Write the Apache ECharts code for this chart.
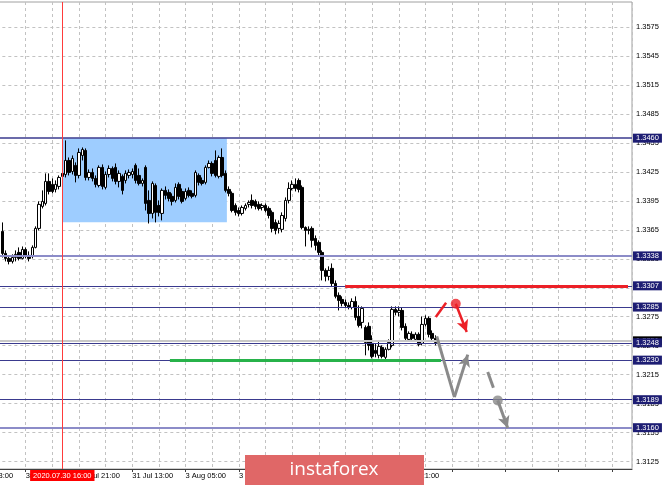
<!DOCTYPE html>
<html><head><meta charset="utf-8">
<script src="https://cdn.jsdelivr.net/npm/echarts@6/dist/echarts.min.js"></script>
<style>html,body{margin:0;padding:0;background:#fff}#c{width:665px;height:485px}</style>
</head><body><div id="c"></div>
<script>
// ---- data (hourly bars, index 0 = 29 Jul 13:00) ----
const firstIndex = 9;
const opens = [1.33634,1.33406,1.33354,1.33323,1.33364,1.33416,1.33354,1.33447,1.33385,1.33375,1.33468,1.33665,1.33893,1.33924,1.34152,1.34121,1.34069,1.34100,1.34235,1.34224,1.34369,1.34255,1.34318,1.34214,1.34421,1.34473,1.34193,1.34245,1.34183,1.34110,1.34297,1.34090,1.34224,1.34286,1.34297,1.34152,1.34204,1.34162,1.34214,1.34224,1.34318,1.34214,1.34131,1.34297,1.33955,1.33820,1.34110,1.33903,1.33820,1.34059,1.34038,1.33997,1.33955,1.34121,1.34048,1.33976,1.34059,1.34028,1.34007,1.34214,1.34162,1.34142,1.34297,1.34338,1.34369,1.34204,1.34400,1.34235,1.34069,1.34028,1.33903,1.33851,1.33820,1.33872,1.33914,1.33955,1.33945,1.33914,1.33882,1.33903,1.33872,1.33831,1.33727,1.33665,1.33655,1.33768,1.33955,1.34079,1.34121,1.34162,1.34090,1.33675,1.33644,1.33665,1.33561,1.33520,1.33416,1.33230,1.33168,1.33251,1.33095,1.32971,1.32929,1.32898,1.32867,1.32846,1.32908,1.32753,1.32691,1.32639,1.32650,1.32474,1.32401,1.32350,1.32432,1.32329,1.32412,1.32453,1.32826,1.32795,1.32815,1.32650,1.32515,1.32567,1.32515,1.32567,1.32474,1.32670,1.32733,1.32577,1.32526];
const closes = [1.33406,1.33354,1.33323,1.33364,1.33396,1.33354,1.33447,1.33375,1.33354,1.33468,1.33665,1.33914,1.33945,1.34152,1.34048,1.34048,1.34121,1.34193,1.34204,1.34369,1.34245,1.34390,1.34214,1.34452,1.34483,1.34193,1.34245,1.34183,1.34121,1.34297,1.34100,1.34224,1.34286,1.34183,1.34152,1.34235,1.34059,1.34235,1.34245,1.34255,1.34162,1.34131,1.34162,1.33924,1.33820,1.34131,1.33831,1.33831,1.34059,1.34007,1.33976,1.33945,1.34090,1.33997,1.33945,1.34048,1.34007,1.33997,1.34245,1.34142,1.34131,1.34297,1.34338,1.34235,1.34214,1.34400,1.34214,1.34059,1.34028,1.33851,1.33831,1.33820,1.33882,1.33903,1.33934,1.33903,1.33893,1.33872,1.33903,1.33851,1.33799,1.33665,1.33644,1.33717,1.33799,1.33955,1.34079,1.34121,1.34079,1.34069,1.33675,1.33644,1.33655,1.33541,1.33489,1.33416,1.33230,1.33168,1.33230,1.33095,1.32961,1.32919,1.32888,1.32867,1.32846,1.32908,1.32743,1.32660,1.32836,1.32484,1.32453,1.32339,1.32370,1.32443,1.32339,1.32412,1.32484,1.32826,1.32795,1.32815,1.32639,1.32526,1.32577,1.32526,1.32567,1.32464,1.32670,1.32733,1.32567,1.32526,1.32484];
const lows = [1.33364,1.33323,1.33292,1.33302,1.33323,1.33333,1.33344,1.33354,1.33323,1.33354,1.33458,1.33644,1.33872,1.33903,1.34017,1.34028,1.34038,1.34069,1.34183,1.34193,1.34214,1.34224,1.34142,1.34183,1.34369,1.34162,1.34162,1.34152,1.34090,1.34090,1.34069,1.34069,1.34193,1.34152,1.34121,1.34090,1.34017,1.34131,1.34183,1.34183,1.34131,1.34110,1.34100,1.33851,1.33716,1.33768,1.33727,1.33789,1.33748,1.33965,1.33945,1.33903,1.33934,1.33965,1.33924,1.33955,1.33986,1.33976,1.33986,1.34110,1.34110,1.34121,1.34286,1.34204,1.34193,1.34183,1.34193,1.34038,1.33997,1.33831,1.33799,1.33789,1.33799,1.33851,1.33882,1.33872,1.33862,1.33851,1.33851,1.33831,1.33768,1.33624,1.33603,1.33613,1.33624,1.33737,1.33924,1.34059,1.34048,1.34038,1.33655,1.33478,1.33603,1.33468,1.33437,1.33375,1.33126,1.33116,1.33126,1.33064,1.32940,1.32815,1.32857,1.32846,1.32826,1.32826,1.32712,1.32639,1.32629,1.32350,1.32401,1.32318,1.32329,1.32318,1.32318,1.32308,1.32401,1.32432,1.32764,1.32753,1.32608,1.32505,1.32494,1.32505,1.32494,1.32443,1.32453,1.32650,1.32536,1.32494,1.32453];
const highs = [1.33727,1.33437,1.33385,1.33396,1.33437,1.33468,1.33478,1.33468,1.33427,1.33489,1.33686,1.33945,1.34059,1.34235,1.34235,1.34183,1.34162,1.34214,1.34255,1.34577,1.34400,1.34421,1.34349,1.34494,1.34504,1.34494,1.34276,1.34286,1.34214,1.34318,1.34328,1.34255,1.34318,1.34307,1.34338,1.34266,1.34224,1.34266,1.34276,1.34286,1.34338,1.34286,1.34183,1.34318,1.34059,1.34152,1.34131,1.33955,1.34079,1.34100,1.34069,1.34028,1.34131,1.34142,1.34079,1.34079,1.34090,1.34059,1.34266,1.34235,1.34193,1.34318,1.34369,1.34359,1.34473,1.34421,1.34494,1.34266,1.34100,1.34048,1.33924,1.33882,1.33903,1.33924,1.33955,1.34017,1.33965,1.33945,1.33924,1.33924,1.33893,1.33851,1.33758,1.33748,1.33831,1.33986,1.34142,1.34162,1.34183,1.34183,1.34110,1.33686,1.33686,1.33686,1.33592,1.33541,1.33437,1.33251,1.33272,1.33302,1.33126,1.33002,1.32961,1.32929,1.32898,1.32940,1.32961,1.32867,1.32857,1.32660,1.32691,1.32557,1.32474,1.32505,1.32453,1.32432,1.32515,1.32857,1.32857,1.32857,1.32846,1.32681,1.32598,1.32598,1.32588,1.32588,1.32753,1.32764,1.32753,1.32608,1.32557];

const xTickIndex = [0,16,32,48,64,80,96,112,128];
const xTickText = ['29 Jul 13:00','30 Jul 05:00','30 Jul 21:00','31 Jul 13:00','3 Aug 05:00','3 Aug 21:00','4 Aug 13:00','5 Aug 05:00','5 Aug 21:00'];
const yTickLabels = ['1.3125','1.3155','1.3185','1.3215','1.3245','1.3275','1.3305','1.3335','1.3365','1.3395','1.3425','1.3455','1.3485','1.3515','1.3545','1.3575'];

const levels = [1.3460,1.3338,1.3307,1.3285,1.3248,1.3230,1.3189,1.3160];
const levelText = ['1.3460','1.3338','1.3307','1.3285','1.3248','1.3230','1.3189','1.3160'];
const bidLevel = 1.3250;
const bidText = '1.3251';

const crossIndex = 27;
const crossText = '2020.07.30 16:00';
const zoneX = [27, 76.4];
const zoneY = [1.3460, 1.3373];
const greenX = [59.3, 140.7]; const greenLevel = 1.3230;
const redX = [111.9, 196.8]; const redLevel = 1.3307;

const redTick = [[139.1,1.32746],[142.2,1.32895]];
const redDot = [145.1,1.32885];
const redArrowEnd = [148.4,1.32591];
const grayPath = [[139.4,1.32546],[144.7,1.31917],[148.7,1.32357]];
const grayDash = [[154.7,1.32176],[156.4,1.32015]];
const grayDot = [157.7,1.31883];
const grayArrowEnd = [160.7,1.31596];

const watermarkText = 'instaforex';

// ---- chart ----
const W = 665, H = 485;
const yMin = 1.31172, yMax = 1.36011;         // price range of the plot (top 2px, bottom 469px)
const plotTop = 2, plotBottom = 469;
const pxPerUnit = (plotBottom - plotTop) / (yMax - yMin);
const yTickMin = 1.3125, yTickMax = 1.3575;  // label grid aligned with the tick lattice
const labTop = plotTop + (yMax - yTickMax) * pxPerUnit;
const labBottom = plotTop + (yMax - yTickMin) * pxPerUnit;

const FONT = 'Liberation Sans';
const gridStyle = {color:'#c2c2c2', type:[3,3], width:1};
const candleData = opens.map((o,k)=>[firstIndex+k, o, closes[k], lows[k], highs[k]]);

const NAVY = '#3a3a8e';
const levelLines = levels.map((lv,k)=>({
  yAxis: lv,
  lineStyle: {color: (k===1||k===7) ? '#8c8cc8' : NAVY, width: (k===1||k===7) ? 2 : (k===0?1.5:1), type:'solid'},
  label: {show:true, position:'end', distance:1, formatter: levelText[k], color:'#fff', backgroundColor:'#1d1d73',
          padding:[1,3,0,3], fontSize:7.5, fontFamily:FONT}
}));

const gridLeft = -27.65, gridRight = 33;
const chart = echarts.init(document.getElementById('c'));
chart.setOption({
  animation:false,
  backgroundColor:'#fff',
  grid:[
    {left:gridLeft, right:gridRight, top:plotTop, bottom:H-plotBottom, show:true, borderColor:'#a0a0a0', borderWidth:1,
     containLabel:false, outerBoundsMode:'none'},
    {left:gridLeft, right:gridRight, top:labTop, bottom:H-labBottom, show:false, containLabel:false, outerBoundsMode:'none'}
  ],
  xAxis:[
    {type:'value', gridIndex:0, min:0, max:198, interval:16, position:'bottom',
     axisLine:{show:true, lineStyle:{color:'#404040'}},
     axisTick:{show:true, length:3, lineStyle:{color:'#404040'}},
     axisLabel:{show:true, margin:3, fontSize:7.5, fontFamily:FONT, color:'#000', align:'left',
       showMaxLabel:false, hideOverlap:false,
       formatter: v => { const k = xTickIndex.indexOf(Math.round(v)); return k>=0 ? xTickText[k] : ''; }},
     splitLine:{show:false}},
    {type:'value', gridIndex:0, min:0, max:198, interval:8, position:'bottom',
     axisLine:{show:false}, axisTick:{show:false}, axisLabel:{show:false},
     splitLine:{show:true, lineStyle:gridStyle}},
    {type:'value', gridIndex:1, min:0, max:198, show:false}
  ],
  yAxis:[
    {type:'value', gridIndex:0, min:yMin, max:yMax, position:'right',
     axisLine:{show:true, lineStyle:{color:'#404040'}}, axisTick:{show:false}, axisLabel:{show:false}, splitLine:{show:false}},
    {type:'value', gridIndex:1, min:yTickMin, max:yTickMax, interval:0.003, position:'right',
     axisLine:{show:false},
     axisTick:{show:true, length:3, lineStyle:{color:'#404040'}},
     axisLabel:{margin:4, fontSize:7.5, fontFamily:FONT, color:'#000',
       formatter: v => { const k = Math.round((v - yTickMin)/0.003); return (k>=0 && k<yTickLabels.length) ? yTickLabels[k] : ''; }},
     splitLine:{show:true, lineStyle:gridStyle}}
  ],
  series:[
    {type:'line', name:'zone', data:[], z:1, xAxisIndex:0, yAxisIndex:0,
     markArea:{silent:true, itemStyle:{color:'#9ecdff'},
       data:[[{coord:[zoneX[0], zoneY[0]]},{coord:[zoneX[1], zoneY[1]]}]]}},
    {type:'line', name:'bid', data:[], z:2, xAxisIndex:0, yAxisIndex:0,
     markLine:{silent:true, precision:5, symbol:['none','none'],
       data:[{yAxis:bidLevel, lineStyle:{color:'#c8c8c8', width:2, type:'solid'},
         label:{show:true, position:'end', distance:1, formatter:bidText, color:'#fff', backgroundColor:'#000',
           padding:[1,3,0,3], fontSize:7.5, fontFamily:FONT}}]}},
    {type:'line', name:'levels', data:[], z:3, xAxisIndex:0, yAxisIndex:0,
     markLine:{silent:true, precision:5, symbol:['none','none'], data: levelLines}},
    {type:'candlestick', name:'GBPUSD', z:4, xAxisIndex:0, yAxisIndex:0, barWidth:3,
     dimensions:['idx','open','close','lowest','highest'],
     encode:{x:'idx', y:['open','close','lowest','highest']},
     data: candleData,
     itemStyle:{color:'#ffffff', color0:'#000000', borderColor:'#000000', borderColor0:'#000000', borderWidth:1}},
    {type:'line', name:'marks', data:[], z:5, xAxisIndex:0, yAxisIndex:0,
     markLine:{silent:true, precision:5, symbol:['none','none'], label:{show:false},
       data:[
         [{coord:[greenX[0],greenLevel], lineStyle:{color:'#27b24a', width:3, type:'solid'}},{coord:[greenX[1],greenLevel]}],
         [{coord:[redX[0],redLevel], lineStyle:{color:'#ec2027', width:3, type:'solid'}},{coord:[redX[1],redLevel]}],
         [{coord:redTick[0], lineStyle:{color:'#ec2027', width:2.5, type:'solid'}},{coord:redTick[1]}],
         [{coord:redDot, lineStyle:{color:'#ec2027', width:2.5, type:'solid'}},{coord:redArrowEnd, symbol:'arrow', symbolSize:[9,12]}],
         [{coord:grayPath[0], lineStyle:{color:'#8a8a8a', width:3, type:'solid'}},{coord:grayPath[1]}],
         [{coord:grayPath[1], lineStyle:{color:'#8a8a8a', width:3, type:'solid'}},{coord:grayPath[2], symbol:'arrow', symbolSize:[9,12]}],
         [{coord:grayDash[0], lineStyle:{color:'#8a8a8a', width:3, type:'solid'}},{coord:grayDash[1]}],
         [{coord:grayDot, lineStyle:{color:'#8a8a8a', width:3, type:'solid'}},{coord:grayArrowEnd, symbol:'arrow', symbolSize:[9,12]}]
       ]}},
    {type:'scatter', name:'dots', z:6, xAxisIndex:0, yAxisIndex:0, symbolSize:10, silent:true,
     data:[{value:redDot, itemStyle:{color:'#ec2027'}},{value:grayDot, itemStyle:{color:'#8a8a8a'}}]},
    {type:'line', name:'cross', data:[], z:10, xAxisIndex:0, yAxisIndex:0,
     markLine:{silent:true, precision:5, symbol:['none','none'], lineStyle:{color:'#ff3b3b', width:1, type:'solid'},
       data:[{xAxis:crossIndex, lineStyle:{color:'#ff3b3b', width:1, type:'solid'},
         label:{show:true, position:'start', distance:1, formatter:crossText, color:'#fff', backgroundColor:'#ff0000',
           padding:[2,3,1,3], fontSize:7.5, fontFamily:FONT}}]}}
  ],
  graphic:{elements:[
    {type:'rect', left:245, top:455, z:1000, zlevel:1, shape:{width:179, height:30}, style:{fill:'#e06767'}},
    {type:'text', x:334, y:470, z:1001, zlevel:1,
     style:{text:watermarkText, fill:'#ffffff', font:'19px "Open Sans"', align:'center', verticalAlign:'middle'}}
  ]}
});
</script>
</body></html>
